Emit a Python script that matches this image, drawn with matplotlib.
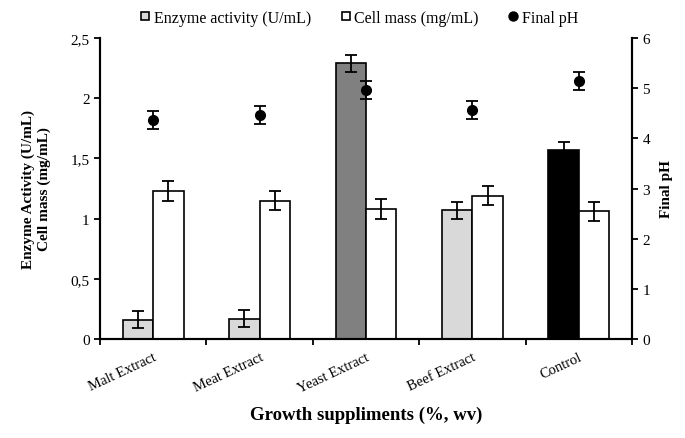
import numpy as np
import matplotlib
matplotlib.use("Agg")
import matplotlib.pyplot as plt
from matplotlib.lines import Line2D

plt.rcParams['font.family'] = ['Liberation Serif', 'DejaVu Serif']

# -------------------------------
# Data
# -------------------------------
categories = ["Malt Extract", "Meat Extract", "Yeast Extract", "Beef Extract", "Control"]
enzyme = [0.16, 0.17, 2.29, 1.07, 1.57]
enzyme_err = [0.07, 0.07, 0.07, 0.07, 0.07]
cell_mass = [1.23, 1.15, 1.08, 1.19, 1.06]
cell_mass_err = [0.08, 0.08, 0.08, 0.08, 0.08]
final_ph = [4.37, 4.46, 4.96, 4.56, 5.15]
final_ph_err = [0.18, 0.18, 0.18, 0.18, 0.18]
enzyme_colors = ["#d9d9d9", "#d9d9d9", "#808080", "#d9d9d9", "#000000"]

left_ticks = [0, 0.5, 1, 1.5, 2, 2.5]
left_labels = ["0", "0,5", "1", "1,5", "2", "2,5"]
right_ticks = [0, 1, 2, 3, 4, 5, 6]

# -------------------------------
# Plot
# -------------------------------
fig = plt.figure(figsize=(6.85, 4.39), dpi=100)
ax = fig.add_axes([0.146, 0.2255, 0.7766, 0.6855])
ax2 = ax.twinx()

x = np.arange(len(categories))
w = 0.286
err_kw = dict(ecolor="black", elinewidth=1.3, capsize=4, capthick=1.3)

ax.bar(x - w / 2, enzyme, w, color=enzyme_colors, edgecolor="black",
       linewidth=1.2, yerr=enzyme_err, error_kw=err_kw, zorder=2)
ax.bar(x + w / 2, cell_mass, w, color="white", edgecolor="black",
       linewidth=1.2, yerr=cell_mass_err, error_kw=err_kw, zorder=2)

ax2.errorbar(x, final_ph, yerr=final_ph_err, fmt="o", color="black",
             markersize=7, elinewidth=1.3, capsize=4, capthick=1.3)

# -------------------------------
# Axes, ticks
# -------------------------------
ax.set_xlim(-0.5, len(categories) - 0.5)
ax.set_ylim(0, 2.5)
ax2.set_ylim(0, 6)

ax.set_yticks(left_ticks)
ax.set_yticklabels(left_labels)
ax2.set_yticks(right_ticks)

ax.set_xticks(np.arange(len(categories) + 1) - 0.5)
ax.set_xticklabels([])
ax.set_xticks(x, minor=True)
ax.set_xticklabels(categories, minor=True, rotation=25, ha="right",
                   rotation_mode="anchor", fontsize=10.5)
ax.tick_params(axis="x", which="minor", length=0, pad=8)
ax.tick_params(axis="x", which="major", direction="out", length=4, width=1.3)
ax.tick_params(axis="y", direction="out", length=4, width=1.3, labelsize=11)
ax2.tick_params(axis="y", direction="out", length=4, width=1.3, labelsize=11)

for a in (ax, ax2):
    a.spines["top"].set_visible(False)
    for s in ("left", "right", "bottom"):
        a.spines[s].set_linewidth(1.5)

ax.set_ylabel("Enzyme Activity (U/mL)\nCell mass (mg/mL)", fontsize=11,
              fontweight="bold", labelpad=14)
ax2.set_ylabel("Final pH", fontsize=11, fontweight="bold", labelpad=7)
fig.text(0.534, 1 - 415 / 439, "Growth suppliments (%, wv)", fontsize=13.5,
         fontweight="bold", ha="center", va="center")

# -------------------------------
# Legend
# -------------------------------
handles = [
    Line2D([], [], marker="s", linestyle="none", markerfacecolor="#d9d9d9",
           markeredgecolor="black", markeredgewidth=1.2, markersize=6),
    Line2D([], [], marker="s", linestyle="none", markerfacecolor="white",
           markeredgecolor="black", markeredgewidth=1.2, markersize=6),
    Line2D([], [], marker="o", linestyle="none", color="black", markersize=6.5),
]
fig.legend(handles, ["Enzyme activity (U/mL)", "Cell mass (mg/mL)", "Final pH"],
           loc="center", bbox_to_anchor=(0.524, 1 - 19 / 439), ncol=3,
           frameon=False, fontsize=11.5, handlelength=0.7, handletextpad=0.2,
           columnspacing=1.8)

fig.savefig("out.png", dpi=100)
